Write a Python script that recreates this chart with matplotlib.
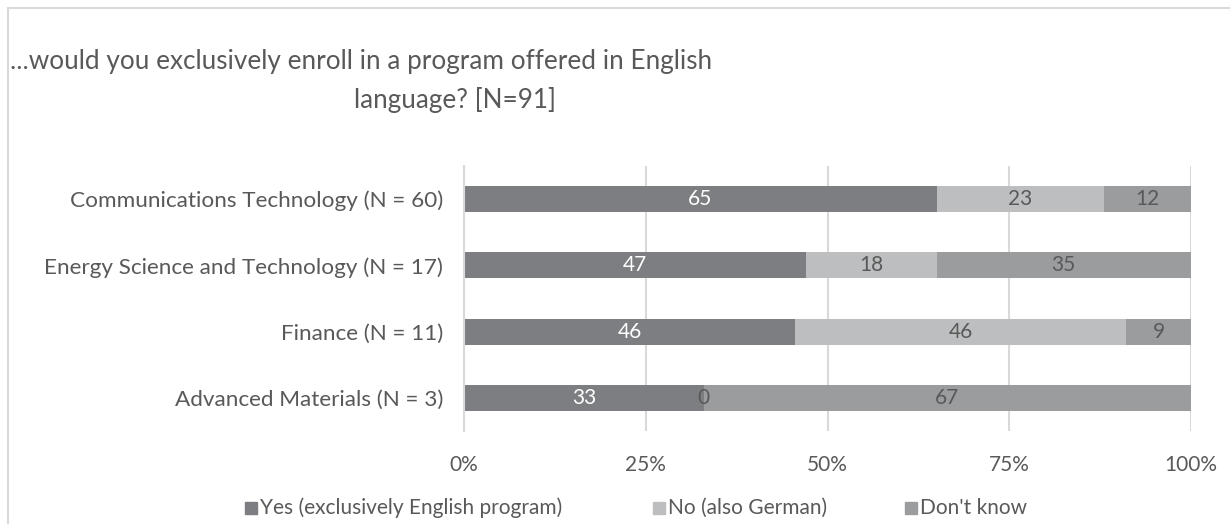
import numpy as np
import matplotlib.pyplot as plt
from matplotlib.patches import Rectangle

plt.rcParams['font.family'] = ['Lato', 'DejaVu Sans']

# == data ========================================================
categories = ['Communications Technology (N = 60)',
              'Energy Science and Technology (N = 17)',
              'Finance (N = 11)',
              'Advanced Materials (N = 3)']
series_names = ['Yes (exclusively English program)', 'No (also German)', "Don't know"]
yes_vals = [65, 47, 46, 33]
no_vals = [23, 18, 46, 0]
dk_vals = [12, 35, 9, 67]
x_ticks = [0, 25, 50, 75, 100]
x_tick_labels = ['0%', '25%', '50%', '75%', '100%']
title_line1 = '...would you exclusively enroll in a program offered in English'
title_line2 = 'language? [N=91]'

colors = ['#7d7e81', '#bdbebf', '#9a9c9e']
label_colors = ['white', '#595959', '#595959']
text_gray = '#595959'

W, H = 1230, 524
fig = plt.figure(figsize=(W / 100, H / 100), dpi=100)


def px(x0, y0, x1, y1):
    # pixel box (top-left origin) -> figure fraction rect
    return [x0 / W, 1 - y1 / H, (x1 - x0) / W, (y1 - y0) / H]


ax = fig.add_axes(px(464, 166, 1191, 431))

vals = np.array([yes_vals, no_vals, dk_vals], dtype=float)
pct = vals / vals.sum(axis=0) * 100  # 100% stacked, like the source chart
y = np.arange(len(categories))
left = np.zeros(len(categories))
for i in range(len(series_names)):
    ax.barh(y, pct[i], left=left, height=0.39, color=colors[i], label=series_names[i], zorder=2)
    for j in range(len(categories)):
        ax.text(left[j] + pct[i][j] / 2, y[j], f'{vals[i][j]:.0f}', ha='center', va='center',
                color=label_colors[i], fontsize=15, zorder=3)
    left += pct[i]

ax.set_xlim(0, 100)
ax.set_ylim(len(categories) - 0.5, -0.5)
ax.set_yticks(y)
ax.set_yticklabels(categories, fontsize=16.2, color=text_gray)
ax.set_xticks(x_ticks)
ax.set_xticklabels(x_tick_labels, fontsize=15, color=text_gray)
ax.tick_params(axis='both', length=0)
ax.tick_params(axis='y', pad=15)
ax.tick_params(axis='x', pad=17)
ax.grid(axis='x', color='#d9d9d9', linewidth=1.5, zorder=0)
for s in ['top', 'right', 'bottom']:
    ax.spines[s].set_visible(False)
ax.spines['left'].set_color('#d9d9d9')
ax.spines['left'].set_linewidth(1.5)

# title
fig.text(10 / W, 1 - 62 / H, title_line1, fontsize=18.8, color=text_gray, va='center', ha='left')
fig.text(455 / W, 1 - 100 / H, title_line2, fontsize=18.8, color=text_gray, va='center', ha='center')

# legend, laid out like the source (uneven entry widths)
leg_x = [245, 653, 905]
for c, name, lx in zip(colors, series_names, leg_x):
    fig.patches.append(Rectangle((lx / W, 1 - 514 / H), 12 / W, 12 / H, transform=fig.transFigure,
                                 color=c))
    fig.text((lx + 15) / W, 1 - 508 / H, name, fontsize=15, color=text_gray, va='center', ha='left')

# chart frame
fig.patches.append(Rectangle((8 / W, -0.1), 1.2, 1 - 8 / H + 0.1, transform=fig.transFigure,
                             fill=False, edgecolor='#d9d9d9', linewidth=1.5))

fig.savefig('out.png', dpi=100)
